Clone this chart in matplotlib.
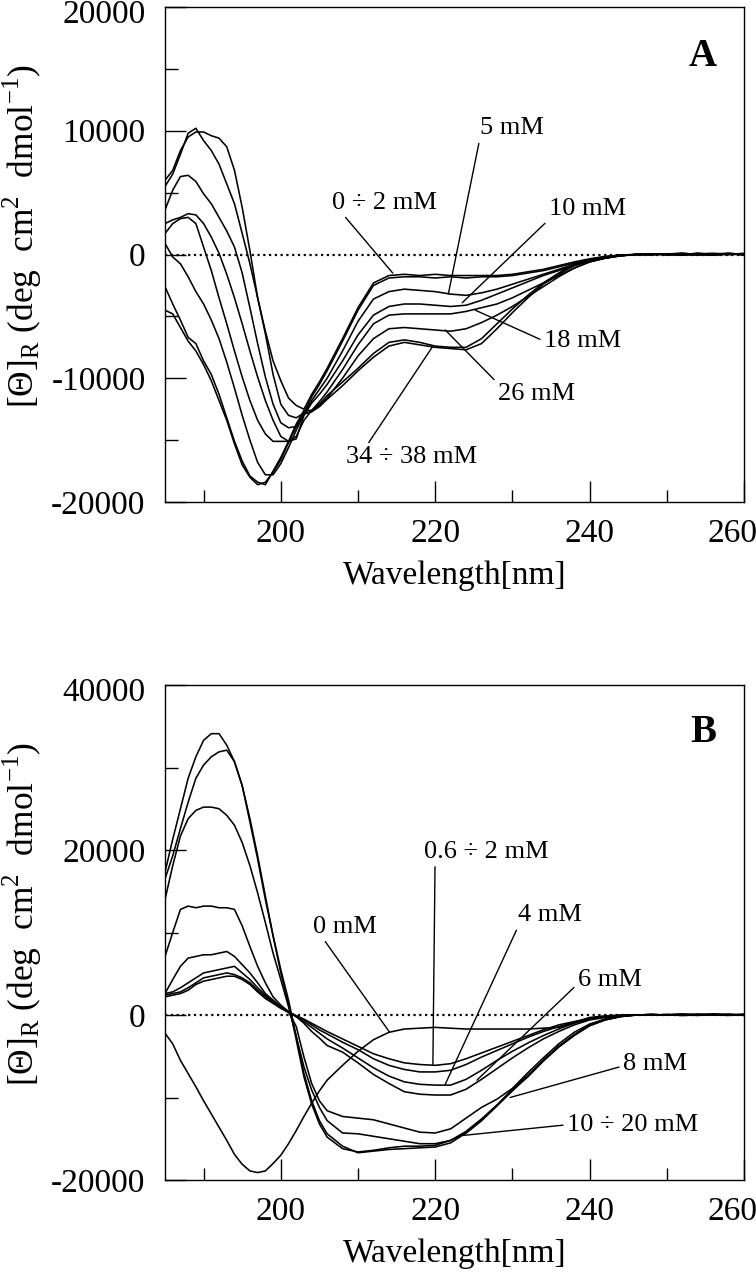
import matplotlib
matplotlib.use('Agg')
import matplotlib.pyplot as plt
from matplotlib.ticker import MultipleLocator, FormatStrFormatter
from matplotlib.transforms import ScaledTranslation

plt.rcParams.update({
    'font.family': ['Liberation Serif', 'DejaVu Serif'],
    'mathtext.fontset': 'custom',
    'mathtext.rm': 'Liberation Serif',
    'axes.unicode_minus': False,
    'axes.linewidth': 1.0,
})

# wavelength grid (nm) shared by every spectrum
wl = [185, 186, 187, 188, 189, 190, 191, 192, 193, 194, 195, 196, 197, 198,
      199, 200, 201, 202, 203, 204, 205, 206,
      208, 210, 212, 214, 216, 218, 220, 222, 224, 226, 228, 230, 232, 234,
      236, 238, 240, 242, 244, 246, 248, 250, 252, 254, 256, 258, 260]

# panel A, mean residue ellipticity (deg cm2 dmol-1)
a_0mM = [6000, 6800, 8400, 9500, 9900, 9900, 9600, 9400, 8700, 6800, 3800, 300,
         -3500, -6200, -8600, -10200, -11600, -12200, -12500, -11300, -10300, -9200,
         -6800, -4300, -2300, -1700, -1600, -1700, -1600, -1700, -1700, -1700, -1700,
         -1600, -1400, -1200, -900, -600, -350, -150, -50, 0, 50, 0, 100, 0, -50, 50, 0]
a_2mM = [5500, 6500, 8100, 9800, 10200, 9200, 8400, 7300, 5700, 4100, 1700, -750,
         -3500, -6400, -9700, -12100, -13000, -13200, -12800, -11500, -10500, -9400,
         -7000, -4500, -2500, -1900, -1800, -1800, -1900, -1800, -1900, -1800, -1800,
         -1700, -1500, -1300, -1000, -700, -450, -250, -100, 0, -50, 50, 0, 100, 0, 50, -50]
a_5mM = [3600, 5200, 6300, 6400, 5900, 4900, 4100, 3000, 1900, 600, -1500, -4300,
         -7200, -9900, -12100, -13600, -14000, -13900, -12900, -11800, -10900, -10000,
         -7800, -5400, -3600, -3000, -2800, -2900, -3000, -3200, -3300, -3100, -2800,
         -2400, -2000, -1600, -1200, -800, -500, -250, -100, 0, 50, -50, 0, 50, 100, 0, 50]
a_10mM = [2500, 2800, 3000, 3300, 3200, 2500, 1400, 100, -1600, -3500, -5600, -7800,
          -9900, -11800, -13400, -14700, -15100, -14900, -13000, -12000, -11300, -10500,
          -8600, -6500, -4900, -4200, -4000, -4000, -4100, -4200, -4100, -3700, -3200,
          -2700, -2200, -1700, -1300, -900, -550, -300, -100, 0, 0, 50, -50, 0, 50, 0, 100]
a_18mM = [1700, 2500, 2900, 3000, 2500, 600, -1300, -3500, -5600, -7800, -9900, -11800,
          -13400, -14500, -15100, -15100, -15100, -14700, -13400, -12600, -11900, -11100,
          -9300, -7300, -5600, -4900, -4800, -4800, -4800, -4800, -4600, -4300, -4000,
          -3500, -2900, -2300, -1700, -1100, -600, -300, -100, 0, 50, 0, 0, -50, 50, 100, 0]
a_26mM = [900, -200, -750, -1800, -3000, -4000, -5300, -6800, -8700, -10800, -13000, -15000,
          -16800, -17800, -17800, -16900, -15600, -14200, -12900, -12700, -12200, -11600,
          -10000, -8200, -6800, -6000, -5900, -6000, -6100, -6200, -6000, -5500, -4900,
          -4200, -3400, -2600, -1800, -1100, -600, -300, -100, 0, 0, 50, 100, 0, -50, 50, 0]
a_34mM = [-2600, -4000, -5300, -6700, -7200, -8600, -9700, -11300, -13200, -15100, -16700, -17900,
          -18400, -18600, -17500, -16400, -15100, -13700, -12600, -12600, -12100, -11400,
          -10300, -9200, -8000, -7100, -6900, -7100, -7400, -7500, -7500, -6800, -5600,
          -4400, -3300, -2300, -1500, -800, -400, -200, -50, 0, 50, 0, -50, 100, 0, 0, 50]
a_38mM = [-4500, -4800, -5900, -7000, -7800, -8900, -10200, -11800, -13400, -15300, -17000, -18000,
          -18600, -18400, -17600, -16600, -15200, -13900, -12800, -12700, -12300, -11700,
          -10600, -9400, -8300, -7400, -7100, -7300, -7500, -7600, -7700, -7200, -6000,
          -4700, -3500, -2400, -1600, -900, -450, -200, -50, 0, 0, 50, 0, 50, -50, 100, 0]

# panel B
b_0mM = [-2200, -3500, -5500, -7100, -8700, -10400, -12000, -13600, -15200, -16900, -18100, -18900,
         -19100, -18900, -18000, -17000, -15600, -14000, -12300, -10700, -9200, -7900,
         -6100, -4400, -3000, -2100, -1700, -1600, -1500, -1600, -1700, -1700, -1700,
         -1700, -1700, -1600, -1500, -900, -300, -100, 0, 0, 50, 0, 100, 0, 50, 0, 100]
b_06mM = [2200, 2400, 2600, 3000, 3700, 4100, 4300, 4500, 4700, 4700, 4300, 3700,
          2800, 2000, 1400, 800, 300, -100, -500, -1000, -1500, -2000,
          -2900, -3800, -4700, -5300, -5800, -6000, -6100, -5900, -5300, -4600, -3900,
          -3200, -2500, -1800, -1200, -800, -400, -200, -50, 0, 50, 0, 0, 100, 0, 50, 0]
b_2mM = [2400, 2600, 2800, 3300, 3900, 4500, 4700, 4900, 5100, 4900, 4500, 3900,
         3000, 2200, 1600, 1000, 400, -100, -600, -1200, -1800, -2300,
         -3300, -4200, -5300, -6100, -6600, -6900, -6900, -6700, -6000, -5100, -4300,
         -3500, -2700, -2000, -1400, -900, -450, -200, -100, 0, 0, 50, -50, 0, 100, 0, 50]
b_4mM = [2600, 2800, 3300, 3900, 4500, 5100, 5300, 5500, 5700, 5900, 5100, 4300,
         3300, 2400, 1600, 1000, 400, -200, -800, -1500, -2200, -2900,
         -4000, -5200, -6400, -7400, -8100, -8400, -8500, -8500, -7800, -6700, -5500,
         -4400, -3400, -2500, -1700, -1000, -500, -250, -100, 0, 50, 0, 100, 0, 0, 50, 0]
b_6mM = [2600, 4300, 5900, 6900, 7100, 7300, 7300, 7500, 7700, 7100, 6100, 5100,
         3900, 2600, 1800, 1000, 400, -200, -1000, -2000, -2800, -3700,
         -4500, -5800, -7200, -8300, -9300, -9600, -9700, -9700, -9000, -7800, -6500,
         -5200, -4000, -2900, -2000, -1200, -600, -300, -100, 0, 0, 50, 0, -50, 50, 100, 0]
b_8mM = [7100, 10000, 12800, 13200, 13000, 13200, 13200, 13000, 13000, 12800, 10800, 8300,
         5900, 3900, 2200, 1200, 400, -1400, -5100, -8300, -10400, -11600,
         -12300, -12500, -12700, -13200, -13700, -14200, -14300, -13800, -12500, -11200, -10200,
         -8900, -7000, -5200, -3500, -2100, -1100, -500, -150, 0, 50, 0, 0, 100, 0, -50, 50]
b_10mM = [14000, 18100, 21700, 23800, 24800, 25200, 25200, 25000, 24200, 23000, 20900, 18100,
          14800, 11200, 7500, 4300, 1000, -2600, -6300, -9100, -11200, -12800,
          -14300, -14400, -14700, -15000, -15300, -15600, -15600, -15200, -14300, -12800, -11000,
          -9200, -7400, -5500, -3800, -2400, -1300, -600, -200, 0, 50, 0, -50, 0, 100, 0, 50]
b_15mM = [16500, 19300, 22600, 25800, 28700, 30300, 31300, 31900, 32100, 30700, 27800, 23800,
          19300, 14400, 9600, 5100, 1400, -3000, -7500, -10800, -13200, -14800,
          -16200, -16600, -16400, -16100, -15900, -15900, -15800, -15200, -14100, -12600, -10900,
          -9000, -7300, -5500, -3800, -2400, -1200, -500, -150, 0, 0, 50, 100, 0, 0, 50, -50]
b_20mM = [17300, 21300, 25000, 28700, 31300, 33300, 34100, 34100, 32700, 30700, 27800, 23400,
          18900, 14000, 9600, 5500, 1800, -2600, -7100, -10400, -12800, -14400,
          -15900, -16700, -16500, -16300, -16200, -16100, -16000, -15500, -14300, -12800, -11000,
          -9100, -7500, -5600, -3900, -2500, -1300, -600, -200, 0, 50, 0, 0, 50, 100, 0, 0]

spectra_a = [a_0mM, a_2mM, a_5mM, a_10mM, a_18mM, a_26mM, a_34mM, a_38mM]
spectra_b = [b_0mM, b_06mM, b_2mM, b_4mM, b_6mM, b_8mM, b_10mM, b_15mM, b_20mM]

xticks = [200, 220, 240, 260]
yticks_a = [-20000, -10000, 0, 10000, 20000]
yticks_b = [-20000, 0, 20000, 40000]

# (text, text position, curve point, relpos of leader on the text box)
labels_a = [
    ('0 \u00f7 2 mM', (213.4, 4200), (214.5, -1500), (0.1, 0.0)),
    ('5 mM', (229.9, 10200), (221.7, -3200), (0.0, 0.0)),
    ('10 mM', (239.7, 3700), (223.5, -3900), (0.0, 0.0)),
    ('18 mM', (239.1, -7000), (225.2, -4500), (0.0, 0.5)),
    ('26 mM', (233.1, -11300), (221.3, -6100), (0.0, 1.0)),
    ('34 \u00f7 38 mM', (217.0, -16400), (219.6, -7500), (0.15, 1.0)),
]
labels_b = [
    ('0 mM', (208.3, 10700), (214.1, -2100), (0.15, 0.0)),
    ('0.6 \u00f7 2 mM', (226.6, 19800), (219.7, -6000), (0.09, 0.0)),
    ('4 mM', (234.9, 12100), (221.3, -8400), (0.0, 0.0)),
    ('6 mM', (242.6, 4300), (225.4, -7900), (0.0, 0.3)),
    ('8 mM', (248.5, -5900), (229.7, -10000), (0.0, 0.4)),
    ('10 \u00f7 20 mM', (245.6, -13300), (223.6, -14600), (0.0, 0.5)),
]

W, H = 756, 1280
fig = plt.figure(figsize=(W / 100, H / 100), dpi=100)
axA = fig.add_axes([165 / W, 1 - 502 / H, 579 / W, 495 / H])
axB = fig.add_axes([165 / W, 1 - 1180 / H, 579 / W, 495 / H])


def style_axes(ax, ylim, yticks, minor):
    ax.set_xlim(185, 260)
    ax.set_ylim(*ylim)
    ax.set_xticks(xticks)
    ax.set_yticks(yticks)
    ax.xaxis.set_minor_locator(MultipleLocator(10))
    ax.yaxis.set_minor_locator(MultipleLocator(minor))
    ax.yaxis.set_major_formatter(FormatStrFormatter('%d'))
    ax.tick_params(which='both', direction='in', top=False, right=False,
                   width=1.0, labelsize=24)
    ax.tick_params(which='major', length=15)
    ax.tick_params(which='minor', length=9)
    ax.tick_params(axis='x', pad=12)
    ax.tick_params(axis='y', pad=14)
    ax.set_xlabel('Wavelength[nm]', fontsize=24)
    ax.xaxis.set_label_coords(0.5, -0.118)
    ax.set_ylabel('[\u0398]$_\\mathregular{R}$ (deg  cm$^\\mathregular{2}$  dmol$^\\mathregular{-1}$)',
                  fontsize=25.5)
    ax.yaxis.set_label_coords(-0.209, 0.537)
    ax.axhline(0, color='black', lw=1.6, ls=(0, (1, 1.6)))


def plot_panel(ax, spectra, labels, tag, tagpos):
    for spec in spectra:
        ax.plot(wl, spec, color='black', lw=1.15)
    for txt, tpos, xy, rel in labels:
        ax.annotate(txt, xy=xy, xytext=tpos, ha='center', va='center', fontsize=19,
                    arrowprops=dict(arrowstyle='-', color='black', lw=1.0,
                                    relpos=rel, shrinkA=1, shrinkB=0))
    ax.text(tagpos[0], tagpos[1], tag, ha='center', va='center',
            fontsize=28, fontweight='bold')


style_axes(axA, (-20000, 20000), yticks_a, 5000)
plot_panel(axA, spectra_a, labels_a, 'A', (254.6, 16000))
style_axes(axB, (-20000, 40000), yticks_b, 10000)
plot_panel(axB, spectra_b, labels_b, 'B', (254.7, 34300))

# edge labels nudged inward, as they sit in the original
fig.canvas.draw()
for ax in (axA, axB):
    last = ax.xaxis.get_major_ticks()[-1].label1
    last.set_transform(last.get_transform() + ScaledTranslation(-0.12, 0, fig.dpi_scale_trans))
    top = ax.yaxis.get_major_ticks()[-1].label1
    top.set_transform(top.get_transform() + ScaledTranslation(0, -0.04, fig.dpi_scale_trans))

fig.savefig('out.png', dpi=100)
